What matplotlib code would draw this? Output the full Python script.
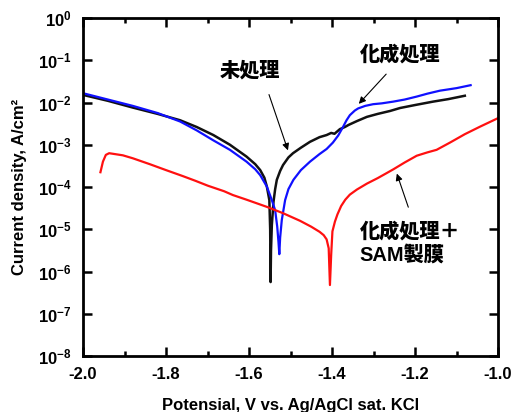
import numpy as np
import matplotlib
matplotlib.use("Agg")
import matplotlib.pyplot as plt
from matplotlib.ticker import FixedLocator, MultipleLocator, FuncFormatter

plt.rcParams['font.family'] = ['Liberation Sans', 'Noto Sans CJK JP', 'DejaVu Sans']
plt.rcParams['mathtext.fontset'] = 'custom'
plt.rcParams['mathtext.bf'] = 'Liberation Sans:bold'
plt.rcParams['mathtext.rm'] = 'Liberation Sans:bold'

# ---------------------------------------------------------------------------
# Polarisation curves (potential V, log10 current density)
# ---------------------------------------------------------------------------
v_untreated = [-2.0, -1.94, -1.88, -1.82, -1.766, -1.726, -1.686, -1.646, -1.606,
               -1.585, -1.573, -1.563, -1.557, -1.551, -1.549, -1.548, -1.547,
               -1.545, -1.541, -1.537, -1.533, -1.525, -1.518, -1.505, -1.494,
               -1.475, -1.453, -1.43, -1.413, -1.402, -1.394, -1.381, -1.369,
               -1.36, -1.34, -1.316, -1.29, -1.26, -1.236, -1.2, -1.157, -1.12,
               -1.08]
log_untreated = [-1.82, -1.96, -2.12, -2.27, -2.42, -2.58, -2.77, -3.0, -3.28,
                 -3.46, -3.6, -3.78, -3.99, -4.31, -5.0, -6.25, -5.5,
                 -4.9, -4.35, -4.05, -3.83, -3.62, -3.48, -3.30, -3.2,
                 -3.07, -2.93, -2.82, -2.77, -2.72, -2.74, -2.63, -2.58,
                 -2.53, -2.44, -2.34, -2.27, -2.2, -2.13, -2.06, -1.98, -1.92,
                 -1.84]

v_conv = [-2.0, -1.94, -1.88, -1.82, -1.766, -1.726, -1.687, -1.646, -1.606,
          -1.585, -1.573, -1.557, -1.545, -1.537, -1.532, -1.529, -1.527, -1.525,
          -1.521, -1.513, -1.505, -1.493, -1.475, -1.453, -1.43, -1.413,
          -1.398, -1.385, -1.373, -1.365, -1.357, -1.345, -1.337, -1.32,
          -1.301, -1.28, -1.253, -1.225, -1.196, -1.17, -1.14, -1.1, -1.066]
log_conv = [-1.78, -1.93, -2.08, -2.25, -2.45, -2.66, -2.89, -3.12, -3.40,
            -3.58, -3.72, -3.99, -4.31, -4.55, -4.94, -5.3, -5.59, -5.2,
            -4.78, -4.31, -4.05, -3.83, -3.6, -3.4, -3.22, -3.1,
            -2.95, -2.78, -2.57, -2.42, -2.3, -2.19, -2.14, -2.08,
            -2.04, -2.02, -1.98, -1.93, -1.86, -1.79, -1.72, -1.66, -1.59]

v_sam = [-1.958, -1.952, -1.945, -1.937, -1.904, -1.88, -1.839, -1.80, -1.76, -1.73,
         -1.699, -1.66, -1.639, -1.606, -1.557, -1.518, -1.477, -1.45, -1.43, -1.42,
         -1.413, -1.408, -1.405, -1.402, -1.399, -1.393, -1.387, -1.378, -1.368,
         -1.357, -1.34, -1.316, -1.29, -1.27, -1.252, -1.225, -1.196, -1.17,
         -1.148, -1.116, -1.08, -1.043, -1.0]
log_sam = [-3.65, -3.40, -3.24, -3.20, -3.25, -3.32, -3.46, -3.6, -3.74, -3.85,
           -3.97, -4.1, -4.19, -4.3, -4.47, -4.62, -4.8, -4.94, -5.06, -5.14,
           -5.24, -5.45, -6.32, -5.6, -5.05, -4.82, -4.65, -4.45, -4.3,
           -4.18, -4.06, -3.92, -3.79, -3.68, -3.58, -3.42, -3.26, -3.18,
           -3.12, -2.95, -2.75, -2.57, -2.37]

x_ticks = [-2.0, -1.8, -1.6, -1.4, -1.2, -1.0]
y_exponents = [0, -1, -2, -3, -4, -5, -6, -7, -8]

fig = plt.figure(figsize=(5.13, 4.12), dpi=100)
ax = fig.add_axes([0.1618, 0.1359, 0.809, 0.8204])

ax.plot(v_untreated, 10.0 ** np.array(log_untreated), color='#111111', lw=1.8)
ax.plot(v_conv, 10.0 ** np.array(log_conv), color='#1010ff', lw=1.6)
ax.plot(v_sam, 10.0 ** np.array(log_sam), color='#ff1010', lw=1.6)

ax.set_yscale('log')
ax.set_xlim(-2.0, -1.0)
ax.set_ylim(1e-8, 1e0)

ax.xaxis.set_major_locator(FixedLocator(x_ticks))
ax.xaxis.set_minor_locator(MultipleLocator(0.1))
ax.xaxis.set_major_formatter(FuncFormatter(lambda v, p: f"{v:.1f}"))
ax.yaxis.set_major_locator(FixedLocator([10.0 ** e for e in y_exponents]))
ax.yaxis.set_minor_locator(FixedLocator([]))
ax.yaxis.set_major_formatter(
    FuncFormatter(lambda v, p: r'$\mathbf{10^{%d}}$' % int(round(np.log10(v)))))

for s in ax.spines.values():
    s.set_linewidth(2.0)
ax.tick_params(which='both', direction='in', top=True, right=True, width=1.8)
ax.tick_params(which='major', length=6.5, labelsize=12, pad=8)
ax.tick_params(which='minor', length=3.5)
for lab in ax.get_xticklabels():
    lab.set_fontweight('bold')

ax.set_xlabel('Potensial, V vs. Ag/AgCl sat. KCl', fontsize=12, fontweight='bold')
ax.set_ylabel('Current density, A/cm²', fontsize=12, fontweight='bold')
ax.xaxis.set_label_coords(0.5, -0.125)
ax.yaxis.set_label_coords(-0.135, 0.5)

# Annotations
jp = dict(fontsize=14.5, fontweight='heavy', color='black')
arrow = dict(arrowstyle='-|>', color='black', lw=0.8, mutation_scale=10)
ax.text(-1.598, 10 ** -1.254, '未処理', ha='center', va='center', **jp)
ax.annotate('', xy=(-1.504, 10 ** -3.195), xytext=(-1.554, 10 ** -1.75),
            arrowprops=arrow)
ax.text(-1.236, 10 ** -0.876, '化成処理', ha='center', va='center', **jp)
ax.annotate('', xy=(-1.34, 10 ** -2.08), xytext=(-1.265, 10 ** -1.28),
            arrowprops=arrow)
ax.text(-1.333, 10 ** -5.33, '化成処理＋\nSAM製膜', ha='left', va='center',
        linespacing=1.15, **jp)
ax.annotate('', xy=(-1.246, 10 ** -3.62), xytext=(-1.214, 10 ** -4.54),
            arrowprops=arrow)

fig.savefig('out.png', dpi=100)
